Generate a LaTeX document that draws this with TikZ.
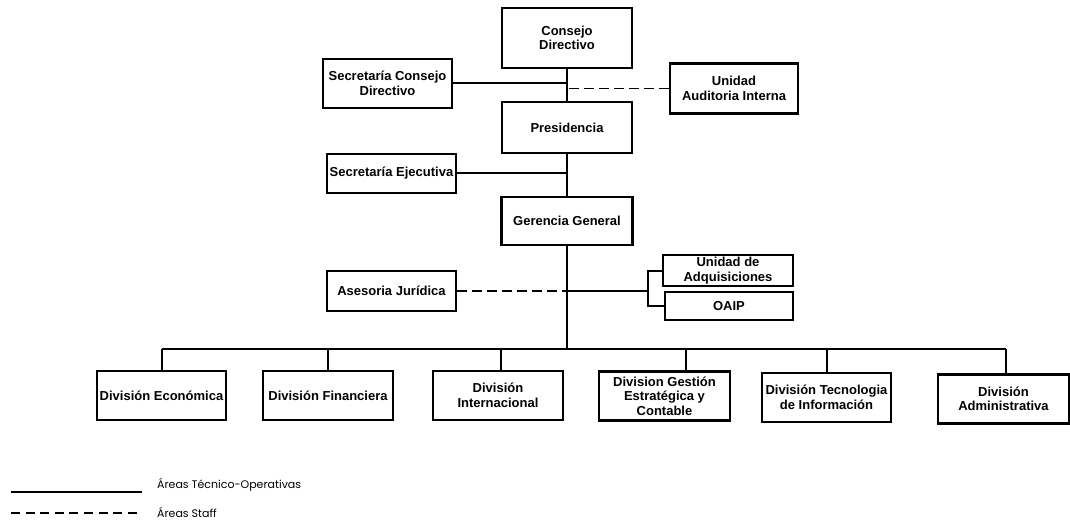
\documentclass[tikz,border=0pt]{standalone}
\usepackage{fontspec}
\setmainfont{Liberation Sans}
\newfontfamily\legfont{Poppins}
\begin{document}
\begin{tikzpicture}[x=1pt,y=-1pt,
 box/.style={draw, line width=2.5pt, align=center, font=\bfseries\fontsize{13}{14.5}\selectfont, inner sep=1pt},
 conn/.style={line width=2pt},
 mainline/.style={line width=2.5pt},
 staff/.style={line width=1.7pt, dash pattern=on 10pt off 5pt},
 legtext/.style={font=\legfont\fontsize{11}{12}\selectfont, anchor=west, inner sep=0pt},
 ]
\useasboundingbox (0,0) rectangle (1070,521);
% top
\node[box, minimum width=130pt, minimum height=60pt] (cd) at (567,38) {Consejo\\Directivo};
\node[box, minimum width=129pt, minimum height=49pt] (scd) at (387.5,83.5) {Secretaría Consejo\\Directivo};
\node[box, minimum width=128pt, minimum height=50pt] (uai) at (734,88.5) {Unidad\\Auditoria Interna};
\node[box, minimum width=130pt, minimum height=51pt] (pres) at (567,127.5) {Presidencia};
\node[box, minimum width=129pt, minimum height=39pt] (se) at (391.5,173.5) {Secretaría Ejecutiva};
\node[box, minimum width=131pt, minimum height=48pt] (gg) at (567,221) {Gerencia General};
\node[box, minimum width=130pt, minimum height=31pt] (ua) at (728,270.5) {Unidad de\\Adquisiciones};
\node[box, minimum width=128pt, minimum height=28pt] (oaip) at (729,306) {OAIP};
\node[box, minimum width=129pt, minimum height=40pt] (aj) at (391.5,291) {Asesoria Jurídica};
% divisions
\node[box, minimum width=129pt, minimum height=49pt] (de) at (161.5,395.5) {División Económica};
\node[box, minimum width=130pt, minimum height=49pt] (df) at (328,395.5) {División Financiera};
\node[box, minimum width=130pt, minimum height=49pt] (di) at (498,395.5) {División\\Internacional};
\node[box, minimum width=131pt, minimum height=49pt] (dg) at (664.5,396) {Division Gestión\\Estratégica y\\Contable};
\node[box, minimum width=129pt, minimum height=49pt] (dt) at (826.5,397.5) {División Tecnologia\\de Información};
\node[box, minimum width=131pt, minimum height=49pt] (da) at (1003.5,399) {División\\Administrativa};
% connectors
\draw[mainline] (cd.south) -- (pres.north);
\draw[conn] (scd.east) -- (scd.east -| cd.south);
\draw[staff] (uai.west) -- (uai.west -| cd.south);
\draw[conn] (se.east) -- (se.east -| pres.south);
\draw[mainline] (pres.south) -- (gg.north);
\coordinate (bus) at (567,349);
\draw[mainline] (gg.south) -- (bus);
\draw[staff] (aj.east) -- (aj.east -| gg.south);
\coordinate (br) at (648,291);
\draw[conn] (aj.east -| gg.south) -- (br);
\draw[conn] (ua.west) -| (br) |- (oaip.west);
\draw[conn] (de.north |- bus) -- ([xshift=2.5pt]da.north |- bus);
\draw[conn] (de.north |- bus) -- (de.north);
\draw[conn] (df.north |- bus) -- (df.north);
\draw[conn] ([xshift=3pt]di.north |- bus) -- ([xshift=3pt]di.north);
\draw[conn] ([xshift=21.5pt]dg.north |- bus) -- ([xshift=21.5pt]dg.north);
\draw[conn] (dt.north |- bus) -- (dt.north);
\draw[conn] ([xshift=2.5pt]da.north |- bus) -- ([xshift=2.5pt]da.north);
% legend
\coordinate (l1a) at (11,492); \coordinate (l1b) at (142,492);
\coordinate (l2a) at (11,513); \coordinate (l2b) at (142,513);
\draw[line width=1.6pt] (l1a) -- (l1b);
\draw[line width=1.4pt, dash pattern=on 9pt off 5.6pt] (l2a) -- (l2b);
\node[legtext] (l1t) at (157,485) {Áreas Técnico-Operativas};
\node[legtext] (l2t) at (157,512) {Áreas Staff};
\end{tikzpicture}
\end{document}
